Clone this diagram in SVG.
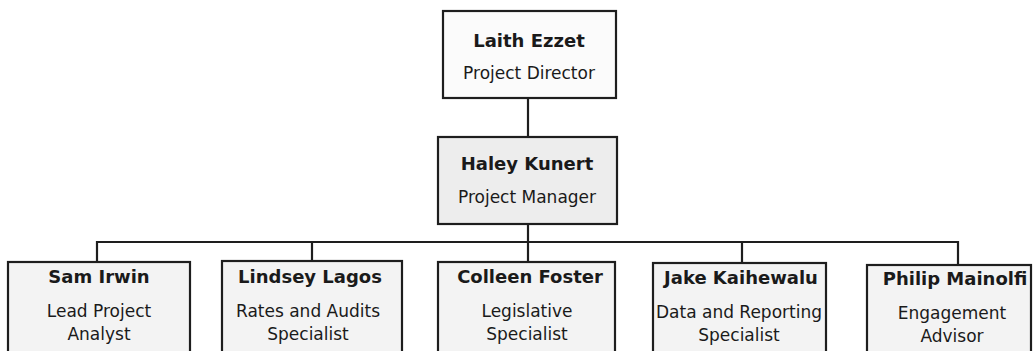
<svg xmlns="http://www.w3.org/2000/svg" width="1034" height="351" viewBox="0 0 1034 351">
<style>
.box{stroke:#1e1e1e;stroke-width:2.2}
.name{font-family:"DejaVu Sans",sans-serif;font-weight:bold;font-size:18px;fill:#1a1a1a;text-anchor:middle}
.role{font-family:"DejaVu Sans",sans-serif;font-size:17px;fill:#1a1a1a;text-anchor:middle}
.conn{stroke:#1e1e1e;stroke-width:2.2;fill:none}
</style>
<rect x="0" y="0" width="1034" height="351" fill="#ffffff"/>
<g id="connectors">
<path class="conn" d="M528 98 V137"/>
<path class="conn" d="M528 224 V262"/>
<path class="conn" d="M97 262 V242 H958 V265"/>
<path class="conn" d="M312 242 V261"/>
<path class="conn" d="M742 242 V263"/>
</g>
<g id="laith">
<rect class="box" x="443" y="11" width="173" height="87" fill="#fbfbfb"/>
<text class="name" x="529" y="47">Laith Ezzet</text>
<text class="role" x="529" y="79">Project Director</text>
</g>
<g id="haley">
<rect class="box" x="438" y="137" width="179" height="87" fill="#ededed"/>
<text class="name" x="527" y="170">Haley Kunert</text>
<text class="role" x="527" y="203">Project Manager</text>
</g>
<g id="sam">
<rect class="box" x="8" y="262" width="182" height="92" fill="#f3f3f3"/>
<text class="name" x="99" y="283">Sam Irwin</text>
<text class="role" x="99" y="317">Lead Project</text>
<text class="role" x="99" y="340">Analyst</text>
</g>
<g id="lindsey">
<rect class="box" x="222" y="261" width="180" height="93" fill="#f3f3f3"/>
<text class="name" x="310" y="283">Lindsey Lagos</text>
<text class="role" x="308" y="317">Rates and Audits</text>
<text class="role" x="308" y="340">Specialist</text>
</g>
<g id="colleen">
<rect class="box" x="438" y="262" width="177" height="92" fill="#f3f3f3"/>
<text class="name" x="530" y="283">Colleen Foster</text>
<text class="role" x="527" y="317">Legislative</text>
<text class="role" x="527" y="340">Specialist</text>
</g>
<g id="jake">
<rect class="box" x="653" y="263" width="173" height="91" fill="#f3f3f3"/>
<text class="name" x="741" y="284">Jake Kaihewalu</text>
<text class="role" x="739" y="318">Data and Reporting</text>
<text class="role" x="739" y="341">Specialist</text>
</g>
<g id="philip">
<rect class="box" x="867" y="265" width="164" height="89" fill="#f3f3f3"/>
<text class="name" x="955" y="285">Philip Mainolfi</text>
<text class="role" x="952" y="319">Engagement</text>
<text class="role" x="952" y="342">Advisor</text>
</g>
</svg>
